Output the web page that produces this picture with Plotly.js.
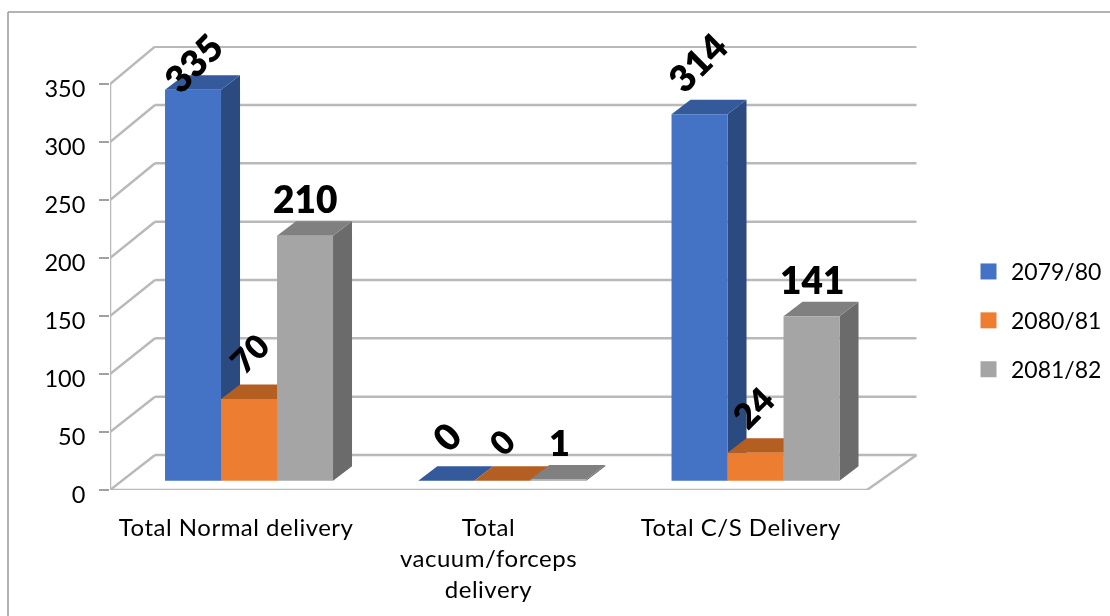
<!DOCTYPE html>
<html><head><meta charset="utf-8">
<script src="https://cdn.plot.ly/plotly-3.0.1.min.js"></script>
<style>html,body{margin:0;padding:0;background:#fff}#c{width:1110px;height:616px;filter:blur(.45px)}
.xtick text{letter-spacing:.5px}</style></head>
<body><div id="c"></div>
<script>
const categories = ['Total Normal delivery', 'Total<br>vacuum/forceps<br>delivery', 'Total C/S Delivery'];
const seriesNames = ['2079/80', '2080/81', '2081/82'];
const values2079 = [335, 0, 314];
const values2080 = [70, 0, 24];
const values2081 = [210, 1, 141];
const yTicks = [0, 50, 100, 150, 200, 250, 300, 350];
const frontColors = ['#4472C4', '#ED7D31', '#A5A5A5'];
const sideColors = ['#2B4A80', '#9E5320', '#6B6B6B'];
const topColors = ['#345A9C', '#B55E22', '#808080'];
const labelAngles = [[-45, -45, -45], [-45, -45, -45], [0, 0, 0]];
const labelSizes = [[37, 37, 37], [33, 33, 35], [37, 36, 37]];
const labelLift = [[27, 44, 52], [46, 39, 46], [37, 38, 37]];
const labelNudge = [[0, 0, -3], [0, -1, -3], [0, 1, 0]];

const series = [values2079, values2080, values2081];
const W = 1110, H = 616;
const L = 110, R = 917, T = 46, B = 490;
const pxX0 = 252.33, pxY0 = 1.16;       // axis-plane scale
const pxX1 = 253.25, pxY1 = 1.1667;     // bar-plane scale
const x1Zero = 122.4, y1Zero = 480.7;   // bar-plane origin
const barW = 56 / pxX1, depthX = 19 / pxX1, depthY = 14.5 / pxY1;
const range1X = [(L - x1Zero) / pxX1, (R - x1Zero) / pxX1];
const range1Y = [(y1Zero - B) / pxY1, (y1Zero - T) / pxY1];

const gridCol = '#B9B9B9';
const shapes = [];
function ln(x0, y0, x1, y1, w, col) {
  shapes.push({type:'line', layer:'below', xref:'x', yref:'y', x0, y0, x1, y1, line:{color:col||gridCol, width:w||2.5}});
}
const wallDx = 45 / pxX0, backY = v => (35 + 1.1667 * v) / pxY0;
const wallEndX = (916.5 - L) / pxX0;
yTicks.forEach(v => {
  ln(0, v, wallDx, backY(v));
  ln(wallDx, backY(v), wallEndX, backY(v));
});
ln(0, 0, 0, 350);
ln(0, 0, 3, 0);
ln(3, 0, wallEndX, backY(0));
[0, 1, 2, 3].forEach(i => ln(i, 0, i, -8 / pxY0, 1.5, '#A0A0A0'));
// outer frame
[[8, 12, 1110, 12], [8, 12, 8, 616]].forEach(p => shapes.push({
  type:'line', layer:'below', xref:'paper', yref:'paper',
  x0:(p[0] - L) / (R - L), x1:(p[2] - L) / (R - L),
  y0:(B - p[1]) / (B - T), y1:(B - p[3]) / (B - T),
  line:{color:'#9A9A9A', width:1.5}
}));

const traces = [];
const centers = categories.map((_, i) => i + 0.5);
const barCenter = (c, s) => c + (s - 1) * barW;
traces.push({x:[0], y:[0], xaxis:'x', yaxis:'y', mode:'none', type:'scatter', showlegend:false, hoverinfo:'skip'});
series.forEach((vals, s) => {
  vals.forEach((v, c) => {
    const xc = barCenter(centers[c], s), xl = xc - barW / 2, xr = xc + barW / 2;
    const face = (xs, ys, col) => traces.push({x:xs, y:ys, xaxis:'x2', yaxis:'y2', type:'scatter', mode:'lines',
      fill:'toself', fillcolor:col, line:{width:0, color:col}, showlegend:false, hoverinfo:'skip'});
    face([xr, xr + depthX, xr + depthX, xr, xr], [0, depthY, v + depthY, v, 0], sideColors[s]);
    face([xl, xr, xr + depthX, xl + depthX, xl], [v, v, v + depthY, v + depthY, v], topColors[s]);
  });
});
series.forEach((vals, s) => {
  traces.push({type:'bar', name:seriesNames[s], x:centers, y:vals, xaxis:'x3', yaxis:'y3',
    legendgroup:seriesNames[s], marker:{color:frontColors[s]}, hoverinfo:'name+y'});
});

const labelFont = 'Lato, "Open Sans", sans-serif';
const annotations = [];
series.forEach((vals, s) => vals.forEach((v, c) => {
  annotations.push({xref:'x3', yref:'y3', x:barCenter(centers[c], s), y:v,
    xshift:labelNudge[s][c], yshift:labelLift[s][c],
    text:String(v), showarrow:false, xanchor:'center', yanchor:'middle', textangle:labelAngles[s][c],
    font:{family:labelFont, size:labelSizes[s][c], color:'#000', weight:800}});
}));

const hidden = {visible:false, fixedrange:true};
const layout = {
  width:W, height:H, showlegend:true, paper_bgcolor:'#fff', plot_bgcolor:'rgba(0,0,0,0)',
  margin:{l:L, r:W - R, t:T, b:H - B, pad:0, autoexpand:false},
  barmode:'group', bargap:1 - 3 * barW, bargroupgap:0,
  font:{family:labelFont, color:'#000', size:22},
  xaxis:{range:[0, (R - L) / pxX0], tickmode:'array', tickvals:centers, ticktext:categories,
    showgrid:false, zeroline:false, showline:false, ticks:'', ticklen:0, tickangle:0, automargin:false, ticklabelstandoff:21,
    tickfont:{family:labelFont, size:24, color:'#000'}, fixedrange:true},
  yaxis:{range:[0, (B - T) / pxY0], tickmode:'array', tickvals:yTicks, ticks:'outside', ticklen:10, tickwidth:1.5,
    tickcolor:'#A0A0A0', showgrid:false, zeroline:false, showline:false, automargin:false,
    ticklabelstandoff:9, ticklabelshift:5,
    tickfont:{family:labelFont, size:23.5, color:'#000'}, fixedrange:true},
  xaxis2:Object.assign({overlaying:'x', range:range1X}, hidden),
  yaxis2:Object.assign({overlaying:'y', range:range1Y}, hidden),
  xaxis3:Object.assign({overlaying:'x', range:range1X}, hidden),
  yaxis3:Object.assign({overlaying:'y', range:range1Y}, hidden),
  legend:{x:(966 - L) / (R - L), xanchor:'left', y:(B - 250) / (B - T), yanchor:'top', bgcolor:'rgba(0,0,0,0)',
    itemwidth:35, tracegroupgap:16, traceorder:'grouped', font:{family:labelFont, size:23, color:'#000'}, itemclick:false, itemdoubleclick:false},
  shapes, annotations
};
Plotly.newPlot('c', traces, layout, {displayModeBar:false, staticPlot:true}).then(() => {
  document.querySelectorAll('.legendpoints path').forEach(p => p.setAttribute('d', 'M8,8H-8V-8H8Z'));
});
</script></body></html>
